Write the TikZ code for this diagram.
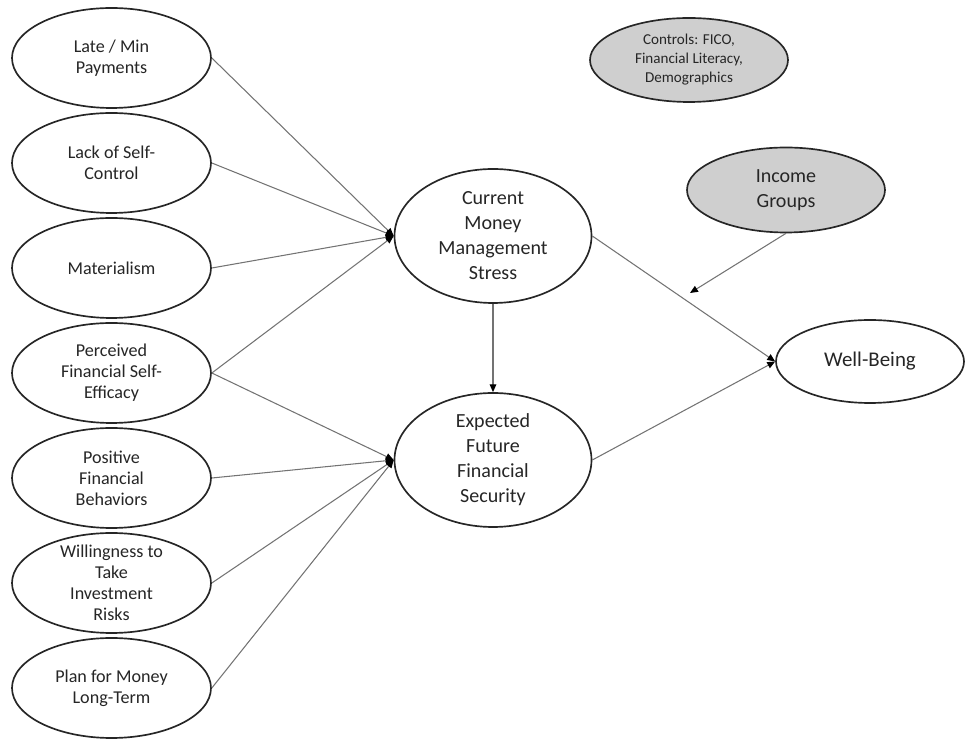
\documentclass[tikz,border=0pt]{standalone}
\usepackage{fontspec}
\setmainfont{Carlito}
\usetikzlibrary{shapes.geometric, arrows.meta, positioning, calc}

\begin{document}
\begin{tikzpicture}[
    >=Triangle,
    factor/.style={
        ellipse, draw=black!85, fill=white, line width=0.95pt, minimum width=3.98cm, minimum height=2cm,
        inner sep=-0.5cm, align=center, text=black!85, font=\fontsize{10.3}{12}\selectfont
    },
    outcome/.style={
        ellipse, draw=black!85, fill=white, line width=0.95pt, minimum width=3.94cm, minimum height=2.68cm,
        inner sep=-0.5cm, align=center, text=black!85, font=\fontsize{11.4}{14.2}\selectfont
    },
    moderator/.style={
        ellipse, draw=black!85, fill=black!19, line width=0.95pt, minimum width=3.96cm, minimum height=1.7cm,
        inner sep=-0.5cm, align=center, text=black!85, font=\fontsize{11.4}{14.2}\selectfont
    },
    flow/.style={
        -{Triangle[length=4.5pt, width=3.8pt, color=black]}, line width=0.6pt, draw=black!55
    }
]

    % Frame
    \useasboundingbox (0, 0) rectangle (19.3, -14.82);

    % Left Column Predictors
    \node[factor] (late) at (2.23, -1.16) {Late / Min\\Payments};
    \node[factor] (selfctl) at (2.23, -3.26) {Lack of Self-\\Control};
    \node[factor] (mater) at (2.23, -5.36) {Materialism};
    \node[factor] (efficacy) at (2.23, -7.46) {Perceived\\Financial Self-\\Efficacy};
    \node[factor] (behav) at (2.23, -9.56) {Positive\\Financial\\Behaviors};
    \node[factor] (risk) at (2.23, -11.66) {Willingness to\\Take\\Investment\\Risks};
    \node[factor] (plan) at (2.23, -13.76) {Plan for Money\\Long-Term};

    % Middle Column Mediators
    \node[outcome] (stress) at (9.86, -4.72) {Current\\Money\\Management\\Stress};
    \node[outcome] (security) at (9.86, -9.2) {Expected\\Future\\Financial\\Security};

    % Right Side
    \node[outcome, minimum width=3.76cm, minimum height=1.66cm, font=\fontsize{11.9}{14.2}\selectfont] (wellbeing) at (17.4, -7.23) {Well-Being};
    \node[moderator] (income) at (15.72, -3.8) {Income\\Groups};
    \node[moderator, minimum height=1.68cm, font=\fontsize{8.6}{10.8}\selectfont] (controls) at (13.78, -1.2) {Controls: FICO,\\Financial Literacy,\\Demographics};
    \coordinate (modpt) at (13.8, -5.86);

    % Predictors to Stress
    \draw[flow] (late.east) -- (stress.west);
    \draw[flow] (selfctl.east) -- (stress.west);
    \draw[flow] (mater.east) -- (stress.west);
    \draw[flow] (efficacy.east) -- (stress.west);

    % Predictors to Security
    \draw[flow] (efficacy.east) -- (security.west);
    \draw[flow] (behav.east) -- (security.west);
    \draw[flow] (risk.east) -- (security.west);
    \draw[flow] (plan.east) -- (security.west);

    % Mediators to Outcome
    \draw[flow] (stress.south) -- (security.north);
    \draw[flow] (stress.east) -- (wellbeing.west);
    \draw[flow] (security.east) -- (wellbeing.west);

    % Moderation
    \draw[flow] (income.south) -- (modpt);

\end{tikzpicture}
\end{document}
